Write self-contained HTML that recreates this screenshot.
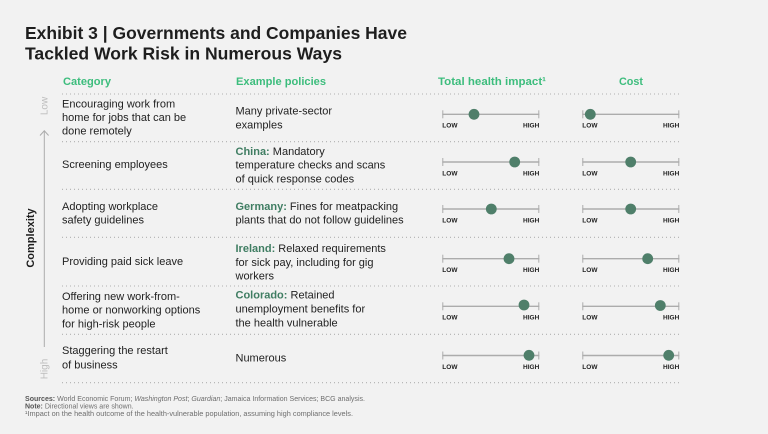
<!DOCTYPE html>
<html>
<head>
<meta charset="utf-8">
<style>
html,body{margin:0;padding:0;background:#f2f2f2;}
svg{display:block;}
text{font-family:"Liberation Sans",sans-serif;}
</style>
</head>
<body>
<svg width="768" height="434" viewBox="0 0 768 434" xmlns="http://www.w3.org/2000/svg">
<rect width="768" height="434" fill="#f2f2f2"/>
<!-- Title -->
<text x="25" y="39" font-size="17.5" font-weight="bold" fill="#1e1e1e" textLength="382" lengthAdjust="spacingAndGlyphs">Exhibit 3 | Governments and Companies Have</text>
<text x="25" y="59.5" font-size="17.5" font-weight="bold" fill="#1e1e1e" textLength="317" lengthAdjust="spacingAndGlyphs">Tackled Work Risk in Numerous Ways</text>

<!-- Headers -->
<g font-size="11" font-weight="bold" fill="#3dbd7d">
<text x="63" y="85" textLength="48" lengthAdjust="spacingAndGlyphs">Category</text>
<text x="236" y="85" textLength="90" lengthAdjust="spacingAndGlyphs">Example policies</text>
<text x="438" y="85" textLength="108" lengthAdjust="spacingAndGlyphs">Total health impact¹</text>
<text x="619" y="85" textLength="24" lengthAdjust="spacingAndGlyphs">Cost</text>
</g>

<!-- Dotted separators -->
<g stroke="#b0b0b0" stroke-width="1.1" stroke-dasharray="1 3">
<line x1="62" y1="94" x2="681" y2="94"/>
<line x1="62" y1="141.7" x2="681" y2="141.7"/>
<line x1="62" y1="189.3" x2="681" y2="189.3"/>
<line x1="62" y1="237.3" x2="681" y2="237.3"/>
<line x1="62" y1="286" x2="681" y2="286"/>
<line x1="62" y1="334.3" x2="681" y2="334.3"/>
<line x1="62" y1="382.7" x2="681" y2="382.7"/>
</g>

<!-- Complexity axis -->
<text transform="translate(34,238) rotate(-90)" text-anchor="middle" font-size="11" font-weight="bold" fill="#1e1e1e">Complexity</text>
<text transform="translate(47.5,106) rotate(-90)" text-anchor="middle" font-size="10" fill="#bdbdbd">Low</text>
<text transform="translate(47.5,369) rotate(-90)" text-anchor="middle" font-size="10" fill="#bdbdbd">High</text>
<line x1="44.3" y1="131" x2="44.3" y2="347" stroke="#ababab" stroke-width="1"/>
<polyline points="40,135.5 44.3,130.8 48.6,135.5" fill="none" stroke="#ababab" stroke-width="1"/>

<!-- Category text -->
<g font-size="11" fill="#222">
<text x="62" y="107.5">Encouraging work from</text>
<text x="62" y="121">home for jobs that can be</text>
<text x="62" y="134.5">done remotely</text>
<text x="62" y="168">Screening employees</text>
<text x="62" y="210">Adopting workplace</text>
<text x="62" y="223.5">safety guidelines</text>
<text x="62" y="265">Providing paid sick leave</text>
<text x="62" y="300">Offering new work-from-</text>
<text x="62" y="313.5">home or nonworking options</text>
<text x="62" y="327.3">for high-risk people</text>
<text x="62" y="354">Staggering the restart</text>
<text x="62" y="368.3">of business</text>
</g>

<!-- Policy text -->
<g font-size="11" fill="#222">
<text x="235.5" y="114.5">Many private-sector</text>
<text x="235.5" y="128.3">examples</text>
<text x="235.5" y="155"><tspan fill="#3f7d62" font-weight="bold">China:</tspan> Mandatory</text>
<text x="235.5" y="168.7">temperature checks and scans</text>
<text x="235.5" y="182.3">of quick response codes</text>
<text x="235.5" y="210"><tspan fill="#3f7d62" font-weight="bold">Germany:</tspan> Fines for meatpacking</text>
<text x="235.5" y="223.3">plants that do not follow guidelines</text>
<text x="235.5" y="252"><tspan fill="#3f7d62" font-weight="bold">Ireland:</tspan> Relaxed requirements</text>
<text x="235.5" y="266">for sick pay, including for gig</text>
<text x="235.5" y="279.3">workers</text>
<text x="235.5" y="298.7"><tspan fill="#3f7d62" font-weight="bold">Colorado:</tspan> Retained</text>
<text x="235.5" y="312.7">unemployment benefits for</text>
<text x="235.5" y="326.7">the health vulnerable</text>
<text x="235.5" y="361.5">Numerous</text>
</g>

<!-- Sliders -->
<defs>
<g id="scale">
<line x1="0" y1="0" x2="97" y2="0" stroke="#acacac" stroke-width="1.4"/>
<line x1="0.5" y1="-4" x2="0.5" y2="4" stroke="#acacac" stroke-width="1"/>
<line x1="96.5" y1="-4" x2="96.5" y2="4" stroke="#acacac" stroke-width="1"/>
<text x="0" y="13.4" font-size="6.5" font-weight="bold" fill="#222">LOW</text>
<text x="97" y="13.4" font-size="6.5" font-weight="bold" fill="#222" text-anchor="end">HIGH</text>
</g>
</defs>
<g>
<use href="#scale" x="442.3" y="114.3"/><use href="#scale" x="582.3" y="114.3"/>
<use href="#scale" x="442.3" y="162"/><use href="#scale" x="582.3" y="162"/>
<use href="#scale" x="442.3" y="209"/><use href="#scale" x="582.3" y="209"/>
<use href="#scale" x="442.3" y="258.7"/><use href="#scale" x="582.3" y="258.7"/>
<use href="#scale" x="442.3" y="306.3"/><use href="#scale" x="582.3" y="306.3"/>
<use href="#scale" x="442.3" y="355.5"/><use href="#scale" x="582.3" y="355.5"/>
</g>
<g fill="#4f7f6a">
<circle cx="474" cy="114.3" r="5.4"/><circle cx="590.3" cy="114.3" r="5.4"/>
<circle cx="514.7" cy="162" r="5.4"/><circle cx="630.7" cy="162" r="5.4"/>
<circle cx="491.3" cy="209" r="5.4"/><circle cx="630.7" cy="209" r="5.4"/>
<circle cx="509" cy="258.7" r="5.4"/><circle cx="647.7" cy="258.7" r="5.4"/>
<circle cx="524" cy="305" r="5.4"/><circle cx="660.3" cy="305.5" r="5.4"/>
<circle cx="529" cy="355.3" r="5.4"/><circle cx="668.7" cy="355.3" r="5.4"/>
</g>

<!-- Footer -->
<g font-size="7" fill="#6e6e6e">
<text x="25" y="401" textLength="340" lengthAdjust="spacingAndGlyphs"><tspan font-weight="bold" fill="#555">Sources:</tspan> World Economic Forum; <tspan font-style="italic">Washington Post</tspan>; <tspan font-style="italic">Guardian</tspan>; Jamaica Information Services; BCG analysis.</text>
<text x="25" y="408.4"><tspan font-weight="bold" fill="#555">Note:</tspan> Directional views are shown.</text>
<text x="25" y="415.8" textLength="328" lengthAdjust="spacingAndGlyphs">¹Impact on the health outcome of the health-vulnerable population, assuming high compliance levels.</text>
</g>
</svg>
</body>
</html>
